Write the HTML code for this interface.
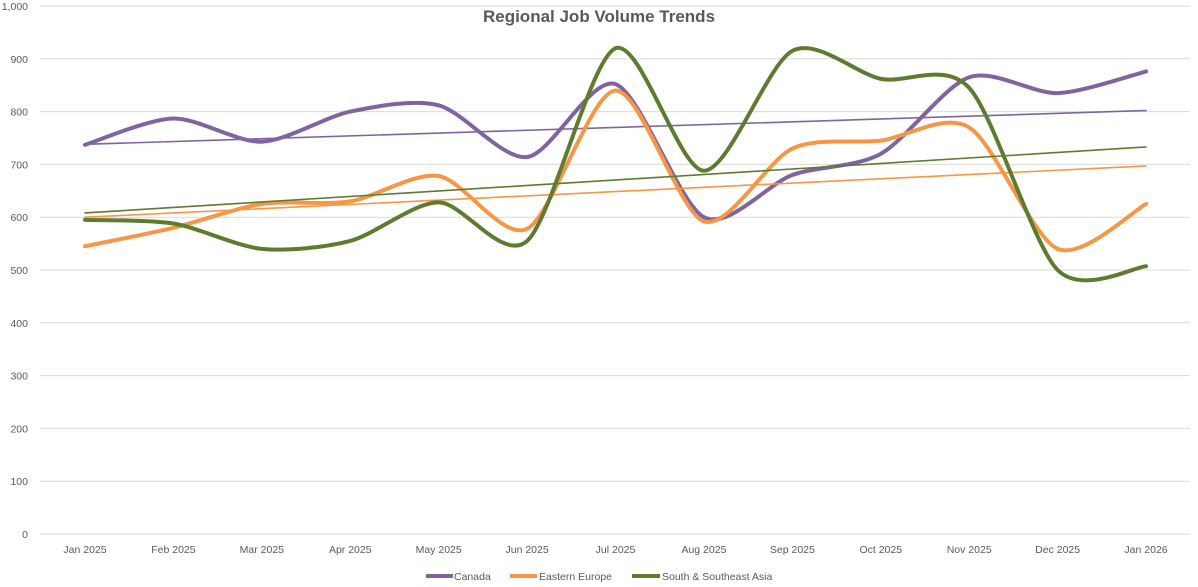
<!DOCTYPE html>
<html><head><meta charset="utf-8"><style>
body{margin:0;background:#fff;}
svg{display:block;font-family:"Liberation Sans",sans-serif;}
</style></head><body>
<svg id="c" width="1198" height="587" xmlns="http://www.w3.org/2000/svg">
<rect width="1198" height="587" fill="#fff"/>
<text x="599" y="22" text-anchor="middle" font-size="17" font-weight="bold" fill="#595959">Regional Job Volume Trends</text>
<g id="grid"></g>
<g id="labels" font-size="10.5" fill="#595959"></g>
<g id="series" fill="none" stroke-linecap="round"></g>
<g font-size="10.5" fill="#595959">
<line x1="426" y1="576" x2="453" y2="576" stroke="#8064a2" stroke-width="4"/>
<text x="454" y="580">Canada</text>
<line x1="510" y1="576" x2="537" y2="576" stroke="#f79646" stroke-width="4"/>
<text x="539" y="580">Eastern Europe</text>
<line x1="632" y1="576" x2="660" y2="576" stroke="#5e7b2f" stroke-width="4"/>
<text x="662" y="580">South &amp; Southeast Asia</text>
</g>
</svg>
<script>
const y0=534, k=0.528, x0=85, dx=88.42;
const Y=v=>y0-v*k, X=i=>x0+i*dx;
let g='',l='';
for(let v=0;v<=1000;v+=100){
 const y=Y(v);
 g+=`<line x1="40" y1="${y}" x2="1190" y2="${y}" stroke="#d9d9d9" stroke-width="1"/>`;
 l+=`<text x="28" y="${y+4}" text-anchor="end">${v==1000?'1,000':v}</text>`;
}
const months=['Jan 2025','Feb 2025','Mar 2025','Apr 2025','May 2025','Jun 2025','Jul 2025','Aug 2025','Sep 2025','Oct 2025','Nov 2025','Dec 2025','Jan 2026'];
months.forEach((m,i)=>{l+=`<text x="${X(i)}" y="553" text-anchor="middle">${m}</text>`;});
document.getElementById('grid').innerHTML=g;
document.getElementById('labels').innerHTML=l;
const data=[
 ['#8064a2',[737,787,743,800,812,714,852,600,680,720,865,835,876],[738,802]],
 ['#f79646',[545,580,625,630,678,578,840,592,730,745,770,540,625],[600,697]],
 ['#5e7b2f',[595,588,540,555,628,555,920,688,915,862,845,500,507],[608,733]]
];
let s='';
data.forEach(([c,d,t])=>{
 const p=d.map((v,i)=>[X(i),Y(v)]);
 let path=`M${p[0][0]},${p[0][1]}`;
 for(let i=0;i<p.length-1;i++){
  const a=p[i-1]||p[i], b=p[i], e=p[i+1], f=p[i+2]||e, tt=0.14;
  path+=` C${b[0]+(e[0]-a[0])*tt},${b[1]+(e[1]-a[1])*tt} ${e[0]-(f[0]-b[0])*tt},${e[1]-(f[1]-b[1])*tt} ${e[0]},${e[1]}`;
 }
 s+=`<path d="${path}" stroke="${c}" stroke-width="4"/>`;
 s+=`<line x1="${X(0)}" y1="${Y(t[0])}" x2="${X(12)}" y2="${Y(t[1])}" stroke="${c}" stroke-width="1.6"/>`;
});
document.getElementById('series').innerHTML=s;
</script>
</body></html>
